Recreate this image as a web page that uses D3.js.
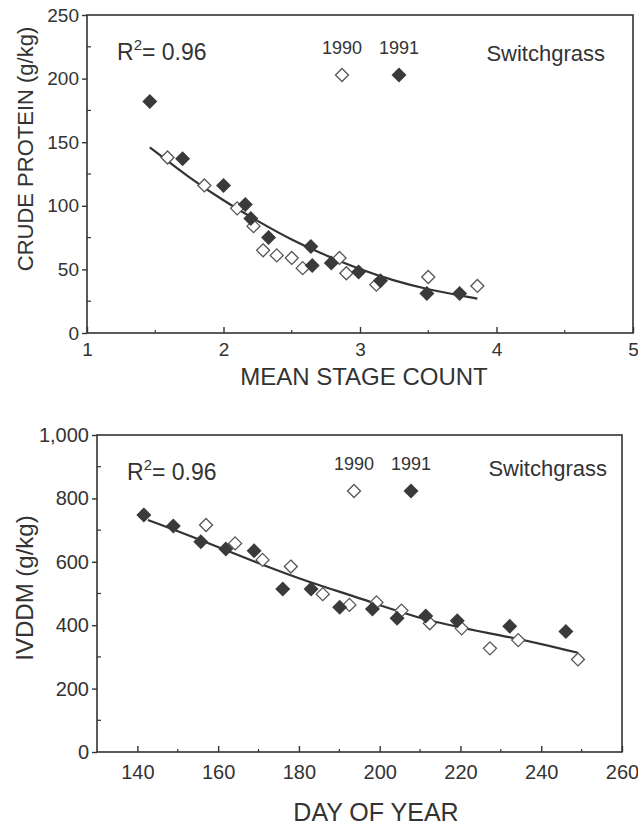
<!DOCTYPE html>
<html>
<head>
<meta charset="utf-8">
<script src="https://cdn.jsdelivr.net/npm/d3@7"></script>
<style>
  body { margin: 0; background: #fff; }
  svg { display: block; font-family: "Liberation Sans", Arial, sans-serif; }
</style>
</head>
<body>
<svg id="chart" width="638" height="826"></svg>
<script>
// top panel: crude protein vs mean stage count
const stage1990 = [1.59, 1.86, 2.10, 2.22, 2.29, 2.39, 2.50, 2.58, 2.85, 2.90, 3.12, 3.50, 3.86];
const protein1990 = [138, 116, 98, 84, 65, 61, 59, 51, 59, 47, 38, 44, 37];
const stage1991 = [1.46, 1.70, 2.00, 2.16, 2.20, 2.33, 2.64, 2.65, 2.79, 2.99, 3.15, 3.49, 3.73];
const protein1991 = [182, 137, 116, 101, 90, 75, 68, 53, 55, 48, 41, 31, 31];
const fitStage = [1.46, 1.75, 2.00, 2.25, 2.50, 2.75, 3.00, 3.25, 3.50, 3.86];
const fitProtein = [146, 122, 104, 88, 73, 61, 50, 41, 34, 27];
const stageTicks = [1, 2, 3, 4, 5];
const proteinTicks = [0, 50, 100, 150, 200, 250];

// bottom panel: IVDDM vs day of year
const day1990 = [157, 164.2, 171, 178, 185.9, 192.5, 199.2, 205.4, 212.4, 220.3, 227.3, 234.3, 249.1];
const ivddm1990 = [716, 658, 606, 585, 498, 464, 472, 446, 406, 390, 327, 353, 292];
const day1991 = [141.6, 148.9, 155.7, 161.9, 168.9, 176, 183, 190.1, 198.2, 204.3, 211.4, 219.2, 232.2, 246.1];
const ivddm1991 = [748, 713, 663, 640, 635, 514, 514, 457, 451, 422, 429, 414, 397, 380];
const fitDay = [142.6, 155.7, 169, 183, 195.1, 211.6, 232.2, 249.1];
const fitIvddm = [732, 669, 600, 533, 486, 411, 364, 313];
const dayTicks = [140, 160, 180, 200, 220, 240, 260];
const ivddmTicks = [0, 200, 400, 600, 800, 1000];

const ink = '#333';
const svg = d3.select('#chart');

const diamond = r => `M0,${-r}L${r},0L0,${r}L${-r},0Z`;

const drawPanel = (g, props) => {
  const {
    xDomain, yDomain, left, right, top, bottom,
    xTicks, xMinor, yTicks, yMinor, xFormat, yFormat, xPad,
    open, filled, fitX, fitY,
    xLabel, yLabel, xLabelX, xLabelY, yLabelY, xLabelSize, yLabelSize, tickSize,
    r2x, r2y, legX, legY, swX, swY
  } = props;

  const x = d3.scaleLinear().domain(xDomain).range([left, right]);
  const y = d3.scaleLinear().domain(yDomain).range([bottom, top]);

  // frame
  g.append('rect')
    .attr('x', left).attr('y', top)
    .attr('width', right - left).attr('height', bottom - top)
    .attr('fill', 'none').attr('stroke', ink).attr('stroke-width', 1.6);

  // y axis
  const yAxis = g.append('g')
    .attr('transform', `translate(${left},0)`)
    .call(d3.axisLeft(y).tickValues(yTicks).tickSize(5).tickPadding(3).tickFormat(yFormat));
  yAxis.select('.domain').remove();
  yAxis.selectAll('line').attr('stroke', ink).attr('stroke-width', 1.4);
  yAxis.selectAll('text').attr('fill', ink).style('font-size', tickSize + 'px');

  g.append('g').selectAll('line')
    .data(yMinor)
    .enter().append('line')
      .attr('x1', left).attr('x2', left + 4)
      .attr('y1', d => y(d)).attr('y2', d => y(d))
      .attr('stroke', ink).attr('stroke-width', 1.2);

  // x axis (ticks point inward)
  const xAxis = g.append('g')
    .attr('transform', `translate(0,${bottom})`)
    .call(d3.axisBottom(x).tickValues(xTicks).tickSizeInner(-6).tickSizeOuter(0)
      .tickPadding(xPad).tickFormat(xFormat));
  xAxis.select('.domain').remove();
  xAxis.selectAll('line').attr('stroke', ink).attr('stroke-width', 1.4);
  xAxis.selectAll('text').attr('fill', ink).style('font-size', tickSize + 'px');

  g.append('g').selectAll('line')
    .data(xMinor)
    .enter().append('line')
      .attr('x1', d => x(d)).attr('x2', d => x(d))
      .attr('y1', bottom).attr('y2', bottom - 3)
      .attr('stroke', ink).attr('stroke-width', 1.2);

  // fitted curve
  const line = d3.line()
    .x(d => x(d[0]))
    .y(d => y(d[1]))
    .curve(d3.curveBasis);
  g.append('path')
    .datum(d3.zip(fitX, fitY))
    .attr('d', line)
    .attr('fill', 'none')
    .attr('stroke', ink)
    .attr('stroke-width', 2.2);

  // points
  g.append('g').selectAll('path')
    .data(open)
    .enter().append('path')
      .attr('d', diamond(6.5))
      .attr('transform', d => `translate(${x(d[0])},${y(d[1])})`)
      .attr('fill', '#fff')
      .attr('stroke', '#555')
      .attr('stroke-width', 1.3);

  g.append('g').selectAll('path')
    .data(filled)
    .enter().append('path')
      .attr('d', diamond(7.5))
      .attr('transform', d => `translate(${x(d[0])},${y(d[1])})`)
      .attr('fill', '#3a3a3a');

  // labels
  g.append('text')
    .attr('x', xLabelX).attr('y', xLabelY)
    .attr('text-anchor', 'middle').attr('fill', ink)
    .style('font-size', xLabelSize + 'px')
    .text(xLabel);

  g.append('text')
    .attr('transform', `translate(33,${yLabelY}) rotate(-90)`)
    .attr('text-anchor', 'middle').attr('fill', ink)
    .style('font-size', yLabelSize + 'px')
    .text(yLabel);

  const r2 = g.append('text')
    .attr('x', r2x).attr('y', r2y)
    .attr('fill', ink)
    .style('font-size', '23px');
  r2.append('tspan').text('R');
  r2.append('tspan').attr('dy', -10).style('font-size', '15px').text('2');
  r2.append('tspan').attr('dy', 10).text('= 0.96');

  // year legend
  const leg = g.append('g').selectAll('g')
    .data(['1990', '1991'])
    .enter().append('g')
      .attr('transform', (d, i) => `translate(${legX + i * 57},${legY})`);
  leg.append('text')
    .attr('text-anchor', 'middle').attr('fill', ink)
    .style('font-size', '18px')
    .text(d => d);
  leg.append('path')
    .attr('d', (d, i) => diamond(i ? 7.5 : 6.5))
    .attr('transform', 'translate(0,21)')
    .attr('fill', (d, i) => i ? '#3a3a3a' : '#fff')
    .attr('stroke', (d, i) => i ? 'none' : '#555')
    .attr('stroke-width', 1.3);

  g.append('text')
    .attr('x', swX).attr('y', swY)
    .attr('text-anchor', 'end').attr('fill', ink)
    .style('font-size', '22px')
    .text('Switchgrass');
};

drawPanel(svg.append('g'), {
  xDomain: [1, 5], yDomain: [0, 250],
  left: 87, right: 633, top: 15, bottom: 333,
  xTicks: stageTicks, xMinor: [1.5, 2.5, 3.5, 4.5],
  yTicks: proteinTicks, yMinor: [25, 75, 125, 175, 225],
  xFormat: d3.format('d'), yFormat: d3.format('d'), xPad: 10,
  open: d3.zip(stage1990, protein1990),
  filled: d3.zip(stage1991, protein1991),
  fitX: fitStage, fitY: fitProtein,
  xLabel: 'MEAN STAGE COUNT', yLabel: 'CRUDE PROTEIN (g/kg)',
  xLabelX: 364, xLabelY: 385, yLabelY: 149, xLabelSize: 24, yLabelSize: 22, tickSize: 19,
  r2x: 117, r2y: 60, legX: 342, legY: 54, swX: 605, swY: 61
});

drawPanel(svg.append('g'), {
  xDomain: [130, 260], yDomain: [0, 1000],
  left: 97, right: 622, top: 435, bottom: 752,
  xTicks: dayTicks, xMinor: [150, 170, 190, 210, 230, 250],
  yTicks: ivddmTicks, yMinor: [100, 300, 500, 700, 900],
  xFormat: d3.format('d'), yFormat: d3.format(','), xPad: 13,
  open: d3.zip(day1990, ivddm1990),
  filled: d3.zip(day1991, ivddm1991),
  fitX: fitDay, fitY: fitIvddm,
  xLabel: 'DAY OF YEAR', yLabel: 'IVDDM (g/kg)',
  xLabelX: 376, xLabelY: 821, yLabelY: 588, xLabelSize: 25, yLabelSize: 24, tickSize: 20,
  r2x: 127, r2y: 480, legX: 354, legY: 470, swX: 607, swY: 476
});
</script>
</body>
</html>
